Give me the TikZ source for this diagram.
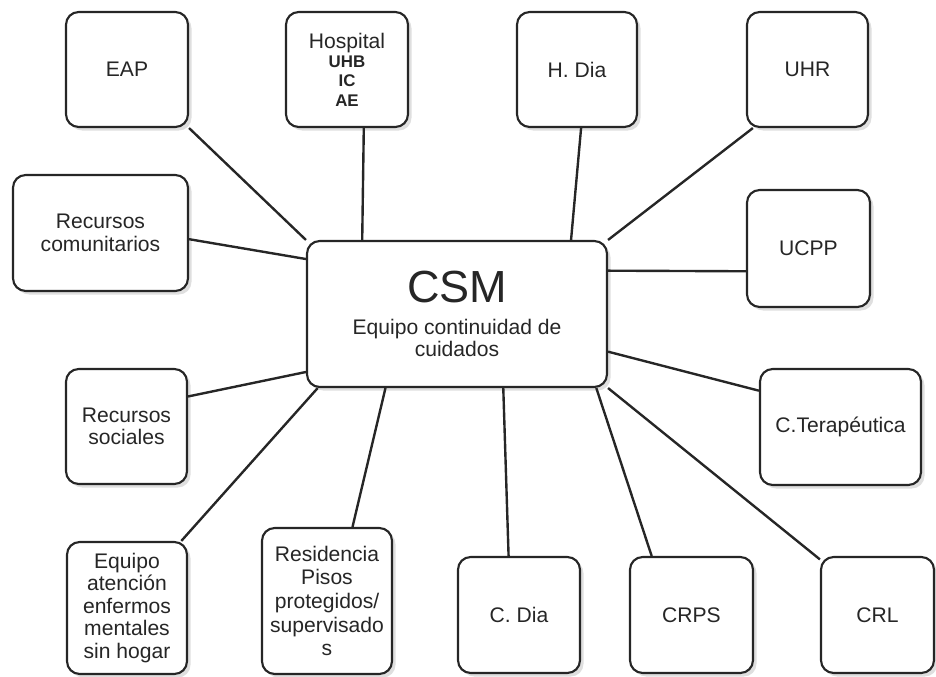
\documentclass[tikz,border=0pt]{standalone}
\usepackage{fontspec}
\setmainfont{Liberation Sans}
\usetikzlibrary{shadows}

\begin{document}
\begin{tikzpicture}[
  x=0.025cm, y=-0.025cm,
  box/.style={draw=black!85, line width=1.5pt, rounded corners=9pt, fill=white,
    align=center, inner sep=2pt, text=black!85,
    font=\fontsize{15}{16}\selectfont,
    drop shadow={fill=black!25, opacity=0.5, shadow xshift=2.5pt, shadow yshift=-2.5pt}},
  dims/.style 2 args={minimum width=#1*0.025cm, minimum height=#2*0.025cm},
  link/.style={draw=black!85, line width=1.7pt}
]
\useasboundingbox (0,0) rectangle (936,677);

% centre
\node[box, dims={300}{146}] (csm) at (457,314)
  {{\fontsize{32}{34}\selectfont CSM}\\[6.5pt]Equipo continuidad de\\cuidados};

% top row
\newcommand\hsub[1]{{\fontsize{12}{13.5}\selectfont\bfseries #1}}
\node[box, dims={122}{115}] (eap)  at (127,69.5) {EAP};
\node[box, dims={122}{115}, font=\fontsize{15}{13.8}\selectfont] (hosp) at (347,69.5)
  {Hospital\\\hsub{UHB}\\\hsub{IC}\\\hsub{AE}};
\node[box, dims={120}{115}] (hdia) at (577,69.5) {H. Dia};
\node[box, dims={121}{115}] (uhr)  at (807.5,69.5) {UHR};

% sides
\node[box, dims={175}{116}] (recom)  at (100.5,233) {Recursos\\comunitarios};
\node[box, dims={123}{117}] (ucpp)   at (808.5,248.5) {UCPP};
\node[box, dims={121}{115}] (recsoc) at (126.5,426.5) {Recursos\\sociales};
\node[box, dims={161}{116}] (cter)   at (840.5,427) {C.Terapéutica};

% bottom row
\node[box, dims={120}{132}] (eqaten) at (127,608)
  {Equipo\\atención\\enfermos\\mentales\\sin hogar};
\node[box, dims={130}{146}, font=\fontsize{15}{16.8}\selectfont] (resid) at (327,601)
  {Residencia\\Pisos\\protegidos/\\supervisado\\s};
\node[box, dims={122}{116}] (cdia) at (519,615) {C. Dia};
\node[box, dims={123}{116}] (crps) at (691.5,615) {CRPS};
\node[box, dims={113}{116}] (crl)  at (877.5,615) {CRL};

% connectors
\draw[link] (eap.south east) -- (csm.north west);
\draw[link] (hosp.-74.5) -- (csm.142.2);
\draw[link] (hdia.-86) -- (csm.33.6);
\draw[link] (uhr.-133.5) -- (csm.north east);
\draw[link] (recom.-4.6) -- (csm.160.2);
\draw[link] (csm.16.4) -- (ucpp.-160.7);
\draw[link] (recsoc.26) -- (csm.-159.5);
\draw[link] (csm.-14.2) -- (cter.156.5);
\draw[link] (csm.-152.5) -- (eqaten.51.9);
\draw[link] (csm.-134.2) -- (resid.71.8);
\draw[link] (csm.-58.4) -- (cdia.100.7);
\draw[link] (csm.-28.8) -- (crps.124.3);
\draw[link] (csm.south east) -- (crl.136);
\end{tikzpicture}
\end{document}
